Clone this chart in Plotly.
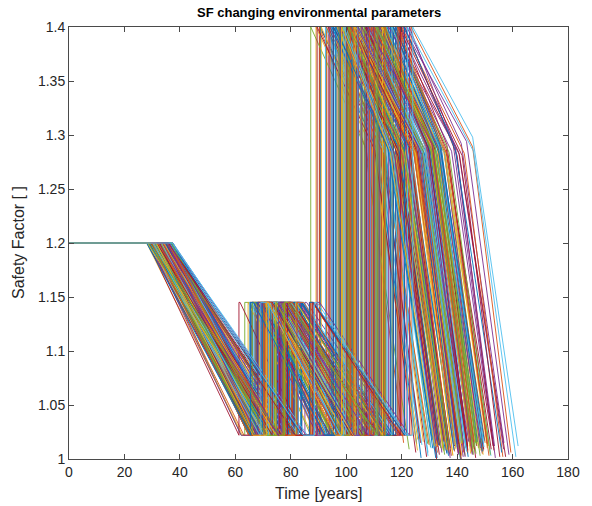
import plotly.graph_objects as go

# Safety-factor histories of a Monte Carlo set of runs.
# Each run: constant SF, first deterioration down to the floor, minor repair,
# second deterioration, major repair, then two-rate deterioration to failure.

SF_INITIAL = 1.2
SF_FLOOR = 1.022
SF_MINOR = 1.145
SF_MAJOR = 1.4

# years at the initial SF before deterioration starts
onset = [
    31.2, 28.4, 35.6, 33.1, 29.8, 36.9, 30.5, 34.2, 32.7, 28.9,
    37.3, 33.8, 30.1, 35.0, 29.3, 31.9, 36.2, 34.7, 28.6, 32.3,
    30.9, 35.4, 33.5, 29.6, 37.0, 31.5, 34.0, 28.2, 36.5, 32.9,
    29.1, 34.5, 31.0, 36.0, 33.3, 30.2, 35.8, 28.7, 32.1, 37.4,
    33.9, 30.7, 29.4, 34.9, 31.7, 36.6, 28.5, 35.2, 32.5, 30.0,
    35.3, 31.4, 37.1, 29.9, 33.6, 28.8, 34.4, 32.0, 36.3, 30.4,
    32.8, 29.2, 35.9, 31.1, 34.1, 37.2, 30.6, 33.4, 28.3, 36.7,
    30.3, 33.0, 28.1, 35.5, 31.8, 34.8, 29.5, 36.4, 32.4, 31.3,
    36.1, 29.7, 34.3, 30.8, 37.5, 32.6, 28.0, 35.1, 33.7, 29.0,
    31.6, 35.7, 30.0, 33.2, 36.8, 29.4,
    33.5, 29.6, 36.4, 31.3, 28.7, 34.9, 30.8, 37.0, 32.2, 35.6,
    29.0, 33.1, 36.9, 30.4, 34.3, 28.4, 31.8, 35.1, 32.9, 37.3,
    30.1, 34.6, 28.9, 36.1, 32.5, 29.8, 35.4, 31.1, 33.8, 28.2,
    36.6, 30.6, 34.0, 32.0, 37.2, 29.3, 35.8, 31.6, 33.3, 28.6,
    35.0, 30.0, 36.8, 32.7, 29.5, 34.4, 31.4, 37.4, 33.0, 28.1,
    34.7, 30.3, 36.0, 32.3, 29.1, 35.3, 31.0, 33.6, 28.8, 36.3,
    31.9, 34.1, 29.7, 37.1, 32.6, 30.7, 35.7, 28.3, 33.9, 31.2,
    36.5, 29.4, 34.8, 32.1, 30.5, 35.5, 28.5, 33.4, 31.7, 36.7,
    29.9, 34.2, 32.4, 37.0, 30.2, 35.9, 28.0, 33.7, 31.5, 36.2,
    29.2, 37.5,
]
# years of the first deterioration (1.2 -> floor)
decay1 = [
    38.5, 41.2, 34.7, 44.9, 36.3, 39.8, 46.1, 33.4, 42.6, 37.9,
    35.1, 43.7, 40.3, 32.8, 47.2, 38.0, 36.9, 45.4, 41.8, 34.2,
    44.1, 37.4, 33.9, 42.0, 39.2, 46.8, 35.6, 40.9, 38.7, 43.3,
    36.0, 47.6, 41.5, 34.4, 39.5, 44.5, 32.5, 37.1, 45.9, 40.0,
    42.9, 35.3, 38.2, 46.4, 33.1, 41.0, 43.8, 36.6, 39.9, 34.9,
    40.6, 45.1, 37.7, 32.2, 44.2, 38.9, 35.9, 47.9, 42.3, 36.4,
    33.7, 39.4, 46.6, 41.3, 35.0, 43.0, 37.2, 40.4, 44.7, 38.3,
    47.0, 34.0, 42.8, 36.7, 45.7, 33.2, 40.7, 38.6, 35.4, 43.6,
    39.0, 44.3, 35.8, 47.4, 37.6, 42.2, 34.6, 46.0, 41.1, 36.1,
    45.2, 38.1, 43.4, 35.2, 40.1, 47.7,
    41.7, 36.2, 44.8, 33.5, 39.1, 47.3, 35.4, 42.9, 38.4, 45.6,
    34.1, 40.5, 48.6, 37.0, 43.2, 32.9, 39.7, 46.0, 36.6, 41.4,
    44.0, 33.8, 38.8, 47.8, 35.7, 42.1, 40.2, 34.6, 45.1, 37.8,
    39.5, 46.5, 33.2, 43.8, 36.9, 41.0, 48.2, 35.1, 38.1, 44.4,
    32.6, 40.8, 45.9, 37.4, 42.5, 34.3, 39.0, 47.0, 36.1, 43.5,
    41.2, 35.0, 44.6, 38.5, 33.0, 46.7, 40.0, 37.6, 42.7, 34.8,
    45.3, 39.3, 36.4, 48.9, 33.6, 41.9, 38.0, 43.9, 35.5, 40.6,
    37.2, 46.2, 34.4, 42.3, 39.8, 32.7, 44.9, 36.8, 41.6, 47.5,
    35.2, 40.4, 43.0, 33.9, 38.6, 45.8, 37.5, 42.0, 34.9, 39.4,
    46.9, 47.0,
]
# years spent at the floor before the minor repair
wait1 = [
    2.1, 0.0, 5.4, 1.2, 7.3, 0.6, 3.8, 0.0, 4.5, 1.9,
    0.3, 6.2, 2.7, 0.0, 1.5, 4.1, 0.8, 7.6, 3.2, 0.0,
    5.8, 1.0, 0.0, 3.5, 2.4, 0.4, 6.7, 1.7, 0.0, 4.9,
    0.9, 3.0, 7.9, 0.2, 5.1, 1.4, 0.0, 2.9, 6.0, 0.7,
    4.3, 0.0, 1.8, 6.5, 0.5, 3.4, 2.2, 0.0, 7.1, 1.1,
    0.0, 2.6, 4.8, 1.3, 0.0, 5.7, 3.1, 0.6, 2.0, 6.9,
    1.6, 7.4, 0.0, 3.9, 0.8, 2.3, 5.2, 0.0, 1.4, 4.0,
    6.3, 0.1, 2.8, 0.0, 4.6, 1.0, 0.0, 3.6, 7.0, 2.5,
    0.0, 5.0, 1.2, 3.3, 0.0, 6.6, 2.0, 0.9, 4.4, 0.0,
    3.7, 0.4, 6.1, 0.0, 2.2, 0.0,
    1.4, 4.6, 0.0, 6.8, 2.3, 0.5, 3.9, 0.0, 5.6, 1.1,
    7.2, 0.0, 2.9, 0.7, 4.2, 0.0, 1.8, 6.1, 0.3, 3.4,
    0.0, 5.3, 1.6, 0.0, 7.7, 2.5, 0.9, 4.8, 0.0, 2.0,
    3.1, 0.0, 6.4, 1.2, 0.0, 4.4, 2.7, 0.4, 5.9, 0.0,
    1.7, 7.0, 0.0, 3.6, 0.6, 2.2, 0.0, 5.0, 1.3, 4.0,
    0.0, 2.8, 6.6, 0.2, 3.3, 0.0, 1.9, 7.5, 0.8, 0.0,
    4.7, 1.5, 0.0, 2.4, 6.0, 0.1, 3.7, 0.0, 1.0, 5.4,
    0.0, 3.2, 0.6, 7.8, 2.1, 0.0, 4.3, 1.7, 0.0, 2.6,
    5.2, 0.0, 1.1, 3.8, 0.4, 6.3, 0.0, 2.3, 4.9, 0.0,
    1.6, 4.0,
]
# years held at the minor-repair SF
hold1 = [
    0.8, 2.1, 0.0, 1.4, 0.3, 2.7, 0.0, 1.1, 0.5, 1.9,
    1.6, 0.0, 2.4, 0.7, 0.0, 1.2, 2.9, 0.2, 1.0, 0.0,
    0.0, 1.8, 0.4, 2.2, 1.3, 0.0, 0.9, 2.6, 0.1, 1.5,
    2.3, 0.6, 0.0, 1.7, 0.0, 2.8, 1.2, 0.3, 0.0, 2.0,
    0.4, 1.3, 2.5, 0.0, 1.8, 0.2, 0.0, 2.1, 0.9, 1.4,
    1.1, 0.0, 0.6, 2.4, 0.8, 1.6, 0.0, 2.9, 0.3, 0.0,
    2.0, 0.5, 1.5, 0.0, 2.6, 0.0, 1.0, 0.4, 1.9, 2.2,
    0.0, 2.7, 0.2, 1.1, 0.0, 1.7, 2.3, 0.0, 0.6, 1.3,
    1.5, 0.0, 2.0, 0.7, 2.8, 0.1, 0.0, 1.2, 2.4, 0.5,
    0.2, 1.9, 0.0, 2.5, 0.6, 1.0,
    1.2, 0.0, 2.5, 0.6, 1.8, 0.0, 2.9, 0.3, 1.4, 0.0,
    2.2, 0.9, 0.0, 1.6, 2.7, 0.4, 0.0, 1.1, 2.0, 0.7,
    0.0, 2.4, 1.3, 0.2, 0.0, 1.9, 2.8, 0.5, 1.0, 0.0,
    2.6, 0.0, 1.5, 0.8, 2.3, 0.0, 1.2, 2.9, 0.1, 1.7,
    0.0, 0.6, 2.1, 1.4, 0.0, 2.6, 0.3, 1.0, 0.0, 2.4,
    1.8, 0.0, 0.7, 2.2, 1.3, 0.0, 2.9, 0.4, 1.6, 0.9,
    0.0, 2.0, 1.1, 0.0, 2.7, 0.5, 1.5, 0.0, 2.3, 0.2,
    1.9, 0.8, 0.0, 2.5, 0.0, 1.2, 2.1, 0.6, 0.0, 1.4,
    2.8, 0.0, 1.7, 0.3, 2.2, 0.0, 1.0, 2.6, 0.7, 0.0,
    1.3, 1.0,
]
# years of the second deterioration (1.145 -> floor)
decay2 = [
    26.4, 29.1, 23.5, 31.7, 24.8, 27.6, 32.3, 22.2, 28.9, 25.5,
    23.9, 30.6, 27.0, 21.6, 32.8, 26.1, 24.3, 31.2, 28.4, 22.8,
    30.2, 25.8, 22.5, 29.6, 27.3, 32.0, 24.0, 28.0, 26.7, 30.9,
    24.6, 33.0, 28.7, 23.1, 26.9, 31.4, 21.9, 25.2, 32.5, 27.8,
    29.9, 23.7, 26.2, 32.1, 22.0, 28.3, 30.4, 24.9, 27.5, 23.3,
    28.1, 31.8, 25.6, 21.4, 30.7, 26.6, 24.4, 32.9, 29.3, 25.0,
    22.7, 27.2, 32.6, 28.6, 23.6, 30.0, 25.9, 27.9, 31.0, 26.3,
    32.4, 23.0, 29.7, 25.3, 31.5, 22.4, 28.2, 26.8, 24.1, 30.3,
    27.4, 31.1, 24.7, 32.2, 25.7, 29.4, 23.2, 31.9, 28.5, 24.5,
    31.3, 26.0, 30.1, 23.8, 27.7, 32.7,
    28.7, 25.0, 30.9, 23.1, 27.0, 32.6, 24.4, 29.6, 26.5, 31.5,
    23.5, 28.0, 33.5, 25.5, 29.8, 22.7, 27.4, 31.7, 25.3, 28.6,
    30.4, 23.3, 26.8, 33.0, 24.6, 29.0, 27.7, 23.9, 31.1, 26.1,
    27.3, 32.1, 22.9, 30.2, 25.5, 28.3, 33.2, 24.2, 26.3, 30.6,
    22.5, 28.2, 31.7, 25.8, 29.3, 23.7, 26.9, 32.4, 24.9, 30.0,
    28.4, 24.2, 30.8, 26.6, 22.8, 32.2, 27.6, 25.9, 29.5, 24.0,
    31.2, 27.1, 25.1, 33.7, 23.2, 28.9, 26.2, 30.3, 24.5, 28.0,
    25.7, 31.9, 23.7, 29.2, 27.5, 22.6, 31.0, 25.4, 28.7, 32.8,
    24.3, 27.9, 29.7, 23.4, 26.6, 31.6, 25.9, 29.0, 24.1, 27.2,
    32.4, 32.0,
]
# years spent at the floor before the major repair
wait2 = [
    1.2, 0.0, 3.6, 0.5, 4.8, 2.0, 0.0, 5.5, 1.0, 2.9,
    0.0, 4.1, 1.7, 0.3, 2.6, 0.0, 5.9, 1.4, 0.0, 3.3,
    2.4, 0.8, 0.0, 4.5, 1.1, 3.0, 0.0, 2.2, 5.2, 0.6,
    3.8, 0.0, 1.9, 0.0, 5.0, 0.4, 2.7, 0.0, 1.3, 4.3,
    0.7, 2.5, 0.0, 3.5, 0.0, 1.6, 4.7, 0.9, 2.1, 0.0,
    5.6, 0.2, 2.8, 0.0, 1.5, 3.9, 0.0, 0.6, 4.0, 1.8,
    0.0, 3.1, 0.4, 2.3, 5.4, 0.0, 1.2, 3.7, 0.0, 2.6,
    1.9, 0.0, 4.4, 1.0, 0.0, 2.8, 0.5, 0.0, 3.4, 5.1,
    0.3, 2.0, 0.0, 4.9, 1.6, 0.0, 3.2, 0.8, 0.0, 2.4,
    4.6, 0.0, 1.4, 2.9, 0.0, 5.7,
    2.2, 0.0, 1.3, 4.4, 0.6, 0.0, 3.2, 1.8, 0.0, 0.9,
    3.7, 0.4, 0.0, 2.6, 0.0, 5.1, 1.5, 0.0, 2.9, 0.7,
    0.0, 4.2, 1.0, 0.0, 3.4, 0.2, 2.0, 5.5, 0.0, 1.2,
    0.8, 0.0, 4.8, 1.9, 0.0, 2.5, 0.0, 3.6, 0.3, 0.0,
    5.3, 1.4, 0.0, 2.7, 0.5, 4.0, 1.1, 0.0, 3.1, 0.0,
    0.6, 3.0, 0.0, 1.7, 4.6, 0.0, 0.9, 2.4, 0.0, 3.9,
    0.0, 1.6, 5.0, 0.0, 2.1, 0.4, 3.3, 0.0, 4.5, 1.0,
    2.8, 0.0, 1.3, 0.0, 3.5, 5.8, 0.0, 1.9, 0.7, 0.0,
    4.1, 0.3, 0.0, 2.6, 1.1, 0.0, 3.8, 0.5, 2.2, 1.5,
    0.0, 2.5,
]
# years of slow deterioration after the major repair (1.4 -> knee)
decay3 = [
    20.3, 18.1, 22.6, 17.4, 21.8, 19.5, 23.4, 16.7, 20.9, 18.8,
    22.1, 17.0, 19.9, 23.7, 16.3, 21.2, 18.5, 22.9, 20.0, 17.8,
    19.1, 23.1, 16.9, 20.6, 22.4, 18.3, 21.5, 17.6, 23.9, 19.7,
    17.2, 21.9, 20.4, 16.5, 23.3, 18.9, 22.0, 19.3, 17.5, 21.0,
    23.6, 19.0, 17.9, 22.2, 20.7, 16.2, 21.7, 18.6, 22.8, 20.1,
    18.0, 22.5, 21.3, 19.4, 17.1, 23.0, 20.2, 16.8, 21.6, 19.8,
    21.1, 16.6, 23.8, 18.2, 20.5, 22.7, 17.3, 21.4, 19.2, 23.5,
    16.4, 20.8, 18.7, 22.3, 19.6, 17.7, 23.2, 20.0, 21.9, 18.4,
    22.6, 19.3, 21.0, 17.0, 23.0, 20.4, 18.1, 22.1, 16.9, 21.7,
    19.5, 23.3, 17.4, 21.2, 18.6, 20.6,
    19.8, 22.3, 17.6, 21.1, 18.4, 23.2, 20.5, 16.9, 22.0, 19.0,
    17.3, 21.5, 19.6, 23.5, 18.0, 20.8, 16.5, 22.6, 19.3, 21.8,
    23.0, 18.7, 20.2, 17.1, 22.8, 19.9, 16.8, 21.3, 18.2, 23.4,
    20.6, 17.7, 22.2, 19.1, 16.4, 21.6, 18.9, 23.1, 20.3, 17.5,
    22.4, 19.4, 17.0, 21.9, 18.5, 23.6, 20.0, 16.6, 21.2, 18.8,
    20.9, 23.3, 17.8, 19.7, 22.1, 16.3, 21.4, 18.3, 22.9, 20.1,
    17.4, 21.7, 19.2, 23.8, 18.6, 20.4, 16.7, 22.5, 19.5, 21.0,
    23.7, 18.1, 20.7, 17.2, 22.7, 19.6, 21.3, 16.9, 20.0, 18.4,
    21.8, 17.9, 23.0, 19.8, 16.5, 22.2, 18.7, 20.8, 17.6, 21.5,
    19.3, 21.6,
]
# SF at the knee between slow and fast deterioration
knee_sf = [
    1.286, 1.292, 1.281, 1.289, 1.284, 1.295, 1.283, 1.290, 1.287, 1.280,
    1.293, 1.285, 1.288, 1.282, 1.291, 1.286, 1.279, 1.294, 1.284, 1.289,
    1.283, 1.290, 1.287, 1.292, 1.281, 1.288, 1.285, 1.296, 1.282, 1.286,
    1.289, 1.284, 1.293, 1.280, 1.287, 1.291, 1.283, 1.288, 1.285, 1.290,
    1.282, 1.294, 1.286, 1.289, 1.284, 1.281, 1.292, 1.287, 1.283, 1.288,
    1.291, 1.285, 1.283, 1.290, 1.288, 1.286, 1.280, 1.293, 1.284, 1.289,
    1.286, 1.290, 1.282, 1.287, 1.295, 1.284, 1.289, 1.283, 1.291, 1.285,
    1.288, 1.281, 1.292, 1.285, 1.286, 1.290, 1.284, 1.287, 1.282, 1.294,
    1.284, 1.289, 1.286, 1.291, 1.283, 1.288, 1.292, 1.285, 1.290, 1.281,
    1.287, 1.283, 1.290, 1.286, 1.289, 1.284,
    1.285, 1.291, 1.283, 1.288, 1.280, 1.293, 1.286, 1.289, 1.282, 1.290,
    1.287, 1.284, 1.292, 1.281, 1.289, 1.286, 1.294, 1.283, 1.288, 1.285,
    1.290, 1.282, 1.287, 1.284, 1.291, 1.279, 1.288, 1.285, 1.293, 1.286,
    1.283, 1.289, 1.286, 1.292, 1.284, 1.287, 1.281, 1.290, 1.285, 1.288,
    1.292, 1.284, 1.289, 1.282, 1.287, 1.295, 1.283, 1.288, 1.286, 1.291,
    1.284, 1.290, 1.281, 1.287, 1.289, 1.285, 1.292, 1.283, 1.288, 1.286,
    1.289, 1.282, 1.291, 1.285, 1.280, 1.287, 1.290, 1.284, 1.293, 1.286,
    1.283, 1.288, 1.285, 1.291, 1.287, 1.282, 1.289, 1.284, 1.290, 1.286,
    1.288, 1.283, 1.292, 1.285, 1.287, 1.281, 1.289, 1.286, 1.284, 1.290,
    1.287, 1.298,
]
# years of fast deterioration (knee -> end of record)
decay4 = [
    15.2, 14.1, 16.3, 13.6, 15.8, 14.7, 16.9, 13.9, 15.0, 14.4,
    16.0, 13.8, 15.5, 14.9, 13.4, 16.6, 14.2, 15.3, 13.7, 16.1,
    14.6, 15.9, 13.5, 16.4, 14.8, 15.1, 13.3, 16.7, 14.3, 15.6,
    13.9, 16.2, 14.5, 15.4, 13.6, 14.0, 16.8, 15.0, 14.1, 15.7,
    16.5, 14.3, 15.2, 13.8, 16.0, 14.9, 15.6, 13.5, 16.3, 14.6,
    14.4, 15.8, 13.7, 16.1, 15.3, 13.9, 14.8, 16.4, 15.1, 14.2,
    15.5, 13.6, 16.7, 14.0, 15.0, 16.2, 14.5, 15.7, 13.4, 16.0,
    14.8, 16.3, 14.2, 15.6, 13.5, 15.9, 14.7, 13.8, 16.5, 15.2,
    13.7, 15.4, 16.0, 14.6, 15.8, 14.1, 16.6, 15.1, 13.9, 15.3,
    16.2, 14.0, 15.5, 13.6, 16.4, 14.9,
    14.6, 15.9, 13.8, 16.2, 14.9, 15.3, 13.5, 16.6, 14.3, 15.7,
    16.0, 14.1, 15.4, 13.7, 16.5, 14.8, 15.1, 13.9, 16.3, 14.5,
    15.2, 16.8, 14.0, 15.6, 13.6, 16.1, 14.7, 15.0, 13.4, 16.4,
    14.2, 15.5, 16.7, 13.9, 15.8, 14.4, 13.3, 16.0, 15.1, 14.6,
    15.7, 13.8, 16.2, 14.9, 15.4, 13.5, 16.6, 14.1, 15.9, 14.3,
    16.3, 14.7, 15.0, 13.6, 16.5, 15.2, 14.0, 15.8, 13.7, 16.1,
    14.4, 16.9, 13.9, 15.3, 14.8, 16.0, 15.5, 13.4, 16.4, 14.5,
    15.6, 14.2, 16.8, 15.1, 13.5, 14.9, 16.2, 15.4, 14.0, 16.7,
    13.8, 15.7, 14.6, 16.3, 15.0, 13.6, 16.1, 14.3, 15.9, 14.8,
    15.2, 16.4,
]
# SF at the end of the record
end_sf = [
    1.008, 1.014, 1.003, 1.011, 1.017, 1.005, 1.012, 1.001, 1.009, 1.015,
    1.006, 1.019, 1.010, 1.002, 1.013, 1.007, 1.016, 1.004, 1.011, 1.018,
    1.012, 1.000, 1.015, 1.008, 1.005, 1.014, 1.010, 1.003, 1.017, 1.007,
    1.016, 1.009, 1.004, 1.013, 1.001, 1.011, 1.006, 1.019, 1.008, 1.012,
    1.003, 1.015, 1.010, 1.006, 1.018, 1.002, 1.013, 1.009, 1.005, 1.014,
    1.011, 1.004, 1.017, 1.009, 1.012, 1.007, 1.001, 1.015, 1.010, 1.006,
    1.014, 1.008, 1.002, 1.016, 1.005, 1.012, 1.018, 1.003, 1.011, 1.009,
    1.007, 1.013, 1.010, 1.001, 1.015, 1.006, 1.012, 1.017, 1.004, 1.010,
    1.018, 1.005, 1.011, 1.014, 1.002, 1.016, 1.008, 1.012, 1.007, 1.003,
    1.009, 1.016, 1.006, 1.012, 1.010, 1.004,
    1.010, 1.004, 1.016, 1.007, 1.013, 1.001, 1.018, 1.009, 1.005, 1.014,
    1.011, 1.003, 1.015, 1.008, 1.019, 1.006, 1.012, 1.002, 1.016, 1.010,
    1.005, 1.013, 1.000, 1.017, 1.009, 1.014, 1.004, 1.011, 1.007, 1.018,
    1.012, 1.006, 1.015, 1.002, 1.010, 1.017, 1.008, 1.003, 1.013, 1.009,
    1.016, 1.001, 1.011, 1.014, 1.005, 1.019, 1.007, 1.012, 1.004, 1.015,
    1.008, 1.013, 1.003, 1.010, 1.017, 1.006, 1.012, 1.000, 1.014, 1.009,
    1.005, 1.016, 1.011, 1.002, 1.013, 1.008, 1.018, 1.004, 1.010, 1.015,
    1.007, 1.012, 1.001, 1.016, 1.009, 1.014, 1.003, 1.011, 1.017, 1.006,
    1.013, 1.008, 1.004, 1.015, 1.010, 1.002, 1.018, 1.007, 1.012, 1.005,
    1.011, 1.012,
]

x_ticks = [0, 20, 40, 60, 80, 100, 120, 140, 160, 180]
y_ticks = [1.0, 1.05, 1.1, 1.15, 1.2, 1.25, 1.3, 1.35, 1.4]
y_tick_text = ["1", "1.05", "1.1", "1.15", "1.2", "1.25", "1.3", "1.35", "1.4"]

line_colors = ["#0072BD", "#D95319", "#EDB120", "#7E2F8E",
               "#77AC30", "#4DBEEE", "#A2142F"]

fig = go.Figure()
for i in range(len(onset)):
    t = 0.0
    xs, ys = [0.0], [SF_INITIAL]
    t += onset[i]; xs.append(t); ys.append(SF_INITIAL)
    t += decay1[i]; xs.append(t); ys.append(SF_FLOOR)
    t += wait1[i]; xs += [t, t]; ys += [SF_FLOOR, SF_MINOR]
    t += hold1[i]; xs.append(t); ys.append(SF_MINOR)
    t += decay2[i]; xs.append(t); ys.append(SF_FLOOR)
    t += wait2[i]; xs += [t, t]; ys += [SF_FLOOR, SF_MAJOR]
    t += decay3[i]; xs.append(t); ys.append(knee_sf[i])
    t += decay4[i]; xs.append(t); ys.append(end_sf[i])
    fig.add_trace(go.Scatter(
        x=xs, y=ys, mode="lines", showlegend=False, hoverinfo="skip",
        line=dict(color=line_colors[i % len(line_colors)], width=0.9),
    ))

axis_color = "#4a4a4a"
font_family = "Liberation Sans, Arial, sans-serif"

fig.update_layout(
    width=592, height=506,
    margin=dict(l=69, r=15, t=27, b=47),
    paper_bgcolor="white", plot_bgcolor="white",
    font=dict(family=font_family, size=14, color="#262626"),
    showlegend=False,
    annotations=[
        dict(text="<b>SF changing environmental parameters</b>",
             xref="paper", yref="paper", x=0.5, y=1, yshift=15,
             xanchor="center", yanchor="middle", showarrow=False,
             font=dict(size=13, color="#000000")),
        dict(text="Time [years]", xref="paper", yref="paper",
             x=0.5, y=0, yshift=-34, xanchor="center", yanchor="middle",
             showarrow=False, font=dict(size=16, color="#262626")),
        dict(text="Safety Factor [ ]", xref="paper", yref="paper",
             x=0, y=0.5, xshift=-51, xanchor="center", yanchor="middle",
             textangle=-90, showarrow=False,
             font=dict(size=16, color="#262626")),
    ],
)
fig.update_xaxes(
    range=[0, 180], tickvals=x_ticks, ticks="inside", ticklen=5,
    tickcolor=axis_color, showline=True, linecolor=axis_color, linewidth=1,
    mirror="ticks", showgrid=False, zeroline=False,
    tickfont=dict(size=14, color="#262626"),
)
fig.update_yaxes(
    range=[1.0, 1.4], tickvals=y_ticks, ticktext=y_tick_text,
    ticks="inside", ticklen=5, tickcolor=axis_color, showline=True,
    linecolor=axis_color, linewidth=1, mirror="ticks", showgrid=False,
    zeroline=False, tickfont=dict(size=14, color="#262626"),
)

fig.write_html("out.html")
